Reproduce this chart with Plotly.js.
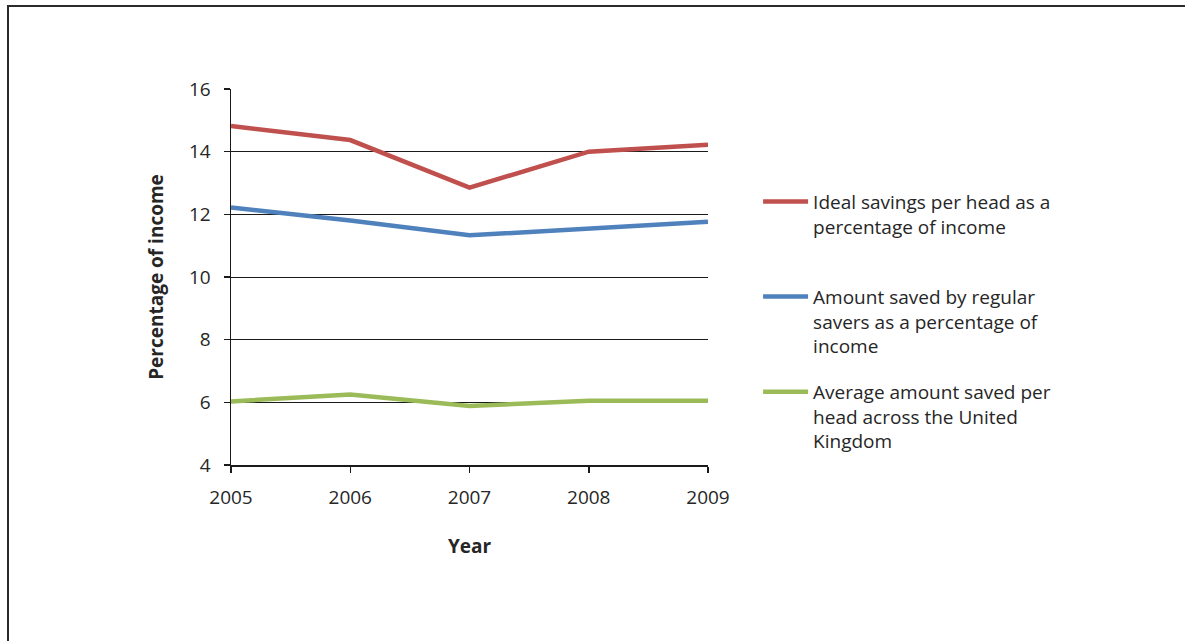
<!DOCTYPE html>
<html>
<head>
<meta charset="utf-8">
<script src="https://cdn.plot.ly/plotly-3.0.1.min.js"></script>
<style>
  html, body { margin: 0; padding: 0; background: #fff; }
  #chart { position: absolute; left: 0; top: 0; width: 1185px; height: 641px; }
  #frame { position: absolute; left: 7px; top: 5px; width: 1200px; height: 700px;
           border-top: 2px solid #2b2b2b; border-left: 2px solid #2b2b2b; pointer-events: none; }
</style>
</head>
<body>
<div id="chart"></div>
<div id="frame"></div>
<script>
const years = [2005, 2006, 2007, 2008, 2009];
const idealSavings = [14.82, 14.37, 12.85, 14.0, 14.22];
const regularSavers = [12.22, 11.8, 11.33, 11.56, 11.76];
const ukAverage = [6.03, 6.25, 5.88, 6.05, 6.05];
const seriesNames = [
  'Ideal savings per head as a<br>percentage of income<br>&nbsp;',
  'Amount saved by regular<br>savers as a percentage of<br>income',
  'Average amount saved per<br>head across the United<br>Kingdom'
];
const yTicks = [4, 6, 8, 10, 12, 14, 16];

const fontFam = 'Open Sans, Noto Sans, sans-serif';
const fs = 19;
const traces = [
  {x: years, y: idealSavings, name: seriesNames[0], legendgroup: 'a', mode: 'lines', line: {color: '#C0504D', width: 4.5}},
  {x: years, y: regularSavers, name: seriesNames[1], legendgroup: 'b', mode: 'lines', line: {color: '#4F81BD', width: 4.5}},
  {x: years, y: ukAverage, name: seriesNames[2], legendgroup: 'c', mode: 'lines', line: {color: '#9BBB59', width: 4.5}}
];

const layout = {
  width: 1185, height: 641,
  margin: {l: 231, r: 477, t: 89, b: 176},
  paper_bgcolor: '#fff', plot_bgcolor: '#fff',
  font: {family: fontFam, size: fs, color: '#262626'},
  showlegend: true,
  legend: {x: 1.105, xanchor: 'left', y: 0.751, yanchor: 'top', valign: 'top',
           itemwidth: 45,
           font: {family: fontFam, size: fs, color: '#262626'}, tracegroupgap: 18,
           bgcolor: 'rgba(0,0,0,0)'},
  xaxis: {
    range: [2005, 2009], tickvals: years, ticktext: years.map(String),
    showgrid: false, zeroline: false, showline: true, linecolor: '#1a1a1a', linewidth: 1.5,
    ticks: 'outside', ticklen: 6, tickcolor: '#1a1a1a', tickwidth: 1.5,
    ticklabelstandoff: 9,
    tickfont: {family: fontFam, size: fs, color: '#262626'},
    title: {text: '<b>Year</b>', font: {family: fontFam, size: fs, color: '#262626'}, standoff: 30}
  },
  yaxis: {
    range: [4, 16], tickvals: yTicks,
    showgrid: true, gridcolor: '#1a1a1a', gridwidth: 1, zeroline: false,
    showline: true, linecolor: '#1a1a1a', linewidth: 1.5,
    ticks: 'outside', ticklen: 6, tickcolor: '#1a1a1a', tickwidth: 1.5,
    ticklabelstandoff: 9,
    tickfont: {family: fontFam, size: fs, color: '#262626'},
    title: {text: '<b>Percentage of income</b>', font: {family: fontFam, size: fs, color: '#262626'}, standoff: 20}
  }
};

Plotly.newPlot('chart', traces, layout, {displayModeBar: false, staticPlot: true});
</script>
</body>
</html>
